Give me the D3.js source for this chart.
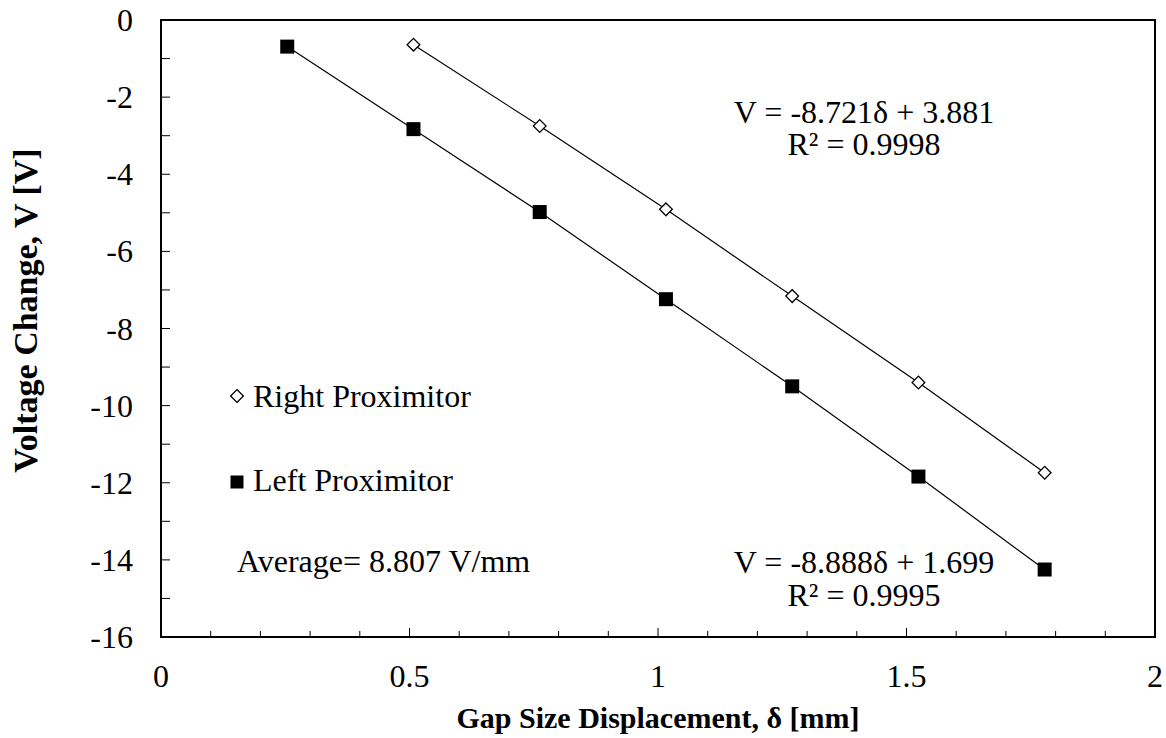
<!DOCTYPE html>
<html>
<head>
<meta charset="utf-8">
<script src="https://cdn.jsdelivr.net/npm/d3@7"></script>
<style>
  body { margin: 0; background: #fff; }
</style>
</head>
<body>
<div id="chart"></div>
<script>
// data
var leftX = [0.254, 0.508, 0.762, 1.016, 1.270, 1.524, 1.778];
var leftV = [-0.69, -2.83, -4.98, -7.24, -9.50, -11.84, -14.25];
var rightX = [0.508, 0.762, 1.016, 1.270, 1.524, 1.778];
var rightV = [-0.64, -2.75, -4.91, -7.16, -9.40, -11.74];

var xTickLabels = [0, 0.5, 1, 1.5, 2];
var yTickLabels = [0, -2, -4, -6, -8, -10, -12, -14, -16];
var xMinorTicks = d3.range(0, 21).map(function(i) { return i / 10; });
var yMinorTicks = d3.range(0, -17, -1);

var svgWidth = 1166;
var svgHeight = 738;
var margin = { top: 20, right: 11, bottom: 101, left: 161 };
var width = svgWidth - margin.left - margin.right;
var height = svgHeight - margin.top - margin.bottom;
var serif = "'Liberation Serif', 'Times New Roman', Times, serif";
var fs = "32px";

var svg = d3.select("#chart")
  .append("svg")
  .attr("width", svgWidth)
  .attr("height", svgHeight)
  .attr("font-family", serif)
  .style("font-family", serif);

var chart = svg.append("g")
  .attr("transform", "translate(" + margin.left + "," + margin.top + ")");

var xScale = d3.scaleLinear().domain([0, 2]).range([0, width]);
var yScale = d3.scaleLinear().domain([-16, 0]).range([height, 0]);

// plot border
chart.append("rect")
  .attr("x", 0).attr("y", 0)
  .attr("width", width).attr("height", height)
  .attr("fill", "none")
  .attr("stroke", "#000")
  .attr("stroke-width", 2);

// ticks (inside)
chart.selectAll(".xtick")
  .data(xMinorTicks)
  .enter()
  .append("line")
  .attr("x1", function(d) { return xScale(d); })
  .attr("x2", function(d) { return xScale(d); })
  .attr("y1", height)
  .attr("y2", function(d, i) { return i % 5 === 0 ? height - 9 : height - 6; })
  .attr("stroke", "#000")
  .attr("stroke-width", 1);

chart.selectAll(".ytick")
  .data(yMinorTicks)
  .enter()
  .append("line")
  .attr("x1", 0)
  .attr("x2", 9)
  .attr("y1", function(d) { return yScale(d); })
  .attr("y2", function(d) { return yScale(d); })
  .attr("stroke", "#000")
  .attr("stroke-width", 1);

// tick labels
chart.selectAll(".xlabel")
  .data(xTickLabels)
  .enter()
  .append("text")
  .attr("x", function(d) { return xScale(d); })
  .attr("y", height + 50)
  .attr("text-anchor", "middle")
  .style("font-size", fs)
  .text(function(d) { return d; });

chart.selectAll(".ylabel")
  .data(yTickLabels)
  .enter()
  .append("text")
  .attr("x", -28)
  .attr("y", function(d) { return yScale(d) + 11; })
  .attr("text-anchor", "end")
  .style("font-size", fs)
  .text(function(d) { return d; });

// lines through the points
var line = d3.line()
  .x(function(d) { return xScale(d[0]); })
  .y(function(d) { return yScale(d[1]); });

var leftPts = d3.zip(leftX, leftV);
var rightPts = d3.zip(rightX, rightV);

chart.append("path")
  .datum(leftPts)
  .attr("d", line)
  .attr("fill", "none")
  .attr("stroke", "#000")
  .attr("stroke-width", 1.2);

chart.append("path")
  .datum(rightPts)
  .attr("d", line)
  .attr("fill", "none")
  .attr("stroke", "#000")
  .attr("stroke-width", 1.2);

// markers
var square = d3.symbol().type(d3.symbolSquare).size(196);
var diamond = d3.symbol().type(d3.symbolSquare).size(81);

chart.selectAll(".sq")
  .data(leftPts)
  .enter()
  .append("path")
  .attr("d", square)
  .attr("transform", function(d) { return "translate(" + xScale(d[0]) + "," + yScale(d[1]) + ")"; })
  .attr("fill", "#000");

chart.selectAll(".dm")
  .data(rightPts)
  .enter()
  .append("path")
  .attr("d", diamond)
  .attr("transform", function(d) { return "translate(" + xScale(d[0]) + "," + yScale(d[1]) + ") rotate(45)"; })
  .attr("fill", "#fff")
  .attr("stroke", "#000")
  .attr("stroke-width", 1.3);

// legend
chart.append("path")
  .attr("d", diamond)
  .attr("transform", "translate(" + (237 - margin.left) + "," + (396 - margin.top) + ") rotate(45)")
  .attr("fill", "#fff")
  .attr("stroke", "#000")
  .attr("stroke-width", 1.3);
chart.append("text")
  .attr("x", 253 - margin.left)
  .attr("y", 407 - margin.top)
  .style("font-size", fs)
  .text("Right Proximitor");

chart.append("path")
  .attr("d", d3.symbol().type(d3.symbolSquare).size(169))
  .attr("transform", "translate(" + (237 - margin.left) + "," + (482 - margin.top) + ")")
  .attr("fill", "#000");
chart.append("text")
  .attr("x", 253 - margin.left)
  .attr("y", 491 - margin.top)
  .style("font-size", fs)
  .text("Left Proximitor");

chart.append("text")
  .attr("x", 237 - margin.left)
  .attr("y", 572 - margin.top)
  .style("font-size", fs)
  .text("Average= 8.807 V/mm");

// trendline equations
var eqCx = 864 - margin.left;
chart.append("text")
  .attr("x", eqCx).attr("y", 123 - margin.top)
  .attr("text-anchor", "middle")
  .style("font-size", fs)
  .text("V = -8.721δ + 3.881");
chart.append("text")
  .attr("x", eqCx).attr("y", 155 - margin.top)
  .attr("text-anchor", "middle")
  .style("font-size", fs)
  .text("R² = 0.9998");

chart.append("text")
  .attr("x", eqCx).attr("y", 573 - margin.top)
  .attr("text-anchor", "middle")
  .style("font-size", fs)
  .text("V = -8.888δ + 1.699");
chart.append("text")
  .attr("x", eqCx).attr("y", 606 - margin.top)
  .attr("text-anchor", "middle")
  .style("font-size", fs)
  .text("R² = 0.9995");

// axis titles
svg.append("text")
  .attr("x", margin.left + width / 2)
  .attr("y", 728)
  .attr("text-anchor", "middle")
  .style("font-size", "30px")
  .style("font-weight", "bold")
  .text("Gap Size Displacement, δ [mm]");

svg.append("text")
  .attr("transform", "translate(37," + (margin.top + height / 2 - 18) + ") rotate(-90)")
  .attr("text-anchor", "middle")
  .style("font-size", "34px")
  .style("font-weight", "bold")
  .text("Voltage Change, V [V]");
</script>
</body>
</html>
